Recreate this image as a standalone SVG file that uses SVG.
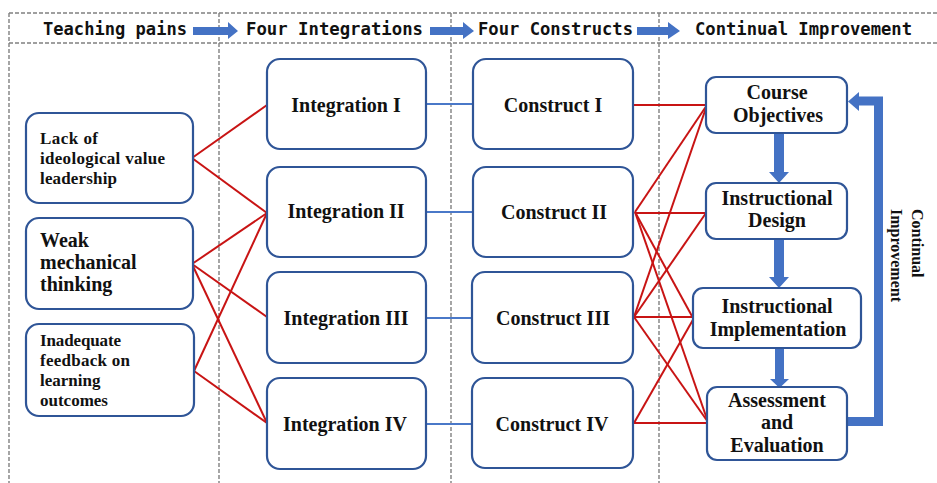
<svg xmlns="http://www.w3.org/2000/svg" width="937" height="483" viewBox="0 0 937 483">
  <style>
    .dash { stroke: #808080; stroke-width: 1.4; stroke-dasharray: 4 2; fill: none; }
    .hdr { font-family: "DejaVu Sans Mono", "Liberation Mono", monospace; font-weight: bold; font-size: 17px; fill: #111; }
    .harrow { fill: #4472C4; }
    .box { fill: #fff; stroke: #2F5597; stroke-width: 2.2; }
    .t { font-family: "Liberation Serif", "Times New Roman", serif; font-weight: bold; fill: #111; }
    .t20 { font-size: 20px; }
    .t17 { font-size: 17px; }
    .t16 { font-size: 16px; }
    .mid { text-anchor: middle; }
    .red { stroke: #C81414; stroke-width: 2; fill: none; }
    .blue { stroke: #4A78C8; stroke-width: 2; fill: none; }
    .bigarrow { fill: #4472C4; }
  </style>

  <!-- dashed frame -->
  <g id="frame">
    <line class="dash" x1="9" y1="13" x2="937" y2="13"/>
    <line class="dash" x1="9" y1="43" x2="937" y2="43"/>
    <line class="dash" x1="9" y1="13" x2="9" y2="483"/>
    <line class="dash" x1="219" y1="13" x2="219" y2="483"/>
    <line class="dash" x1="451" y1="13" x2="451" y2="483"/>
    <line class="dash" x1="659" y1="13" x2="659" y2="483"/>
  </g>

  <!-- header -->
  <g id="header">
    <text class="hdr" x="43" y="35" textLength="144" lengthAdjust="spacingAndGlyphs">Teaching pains</text>
    <polygon class="harrow" points="193,27 228,27 228,22 238,31 228,39 228,35 193,35"/>
    <text class="hdr" x="246" y="35" textLength="177" lengthAdjust="spacingAndGlyphs">Four Integrations</text>
    <polygon class="harrow" points="430,27 463,27 463,22 474,31 463,39 463,35 430,35"/>
    <text class="hdr" x="478" y="35" textLength="155" lengthAdjust="spacingAndGlyphs">Four Constructs</text>
    <polygon class="harrow" points="637,27 668,27 668,22 680,31 668,39 668,35 637,35"/>
    <text class="hdr" x="695" y="35" textLength="217" lengthAdjust="spacingAndGlyphs">Continual Improvement</text>
  </g>

  <!-- connectors -->
  <g id="connectors">
    <!-- pains to integrations -->
    <line class="red" x1="192" y1="158" x2="267" y2="105"/>
    <line class="red" x1="192" y1="158" x2="267" y2="213"/>
    <line class="red" x1="192" y1="264" x2="267" y2="213"/>
    <line class="red" x1="192" y1="264" x2="267" y2="317"/>
    <line class="red" x1="192" y1="264" x2="267" y2="423"/>
    <line class="red" x1="194" y1="371" x2="267" y2="213"/>
    <line class="red" x1="194" y1="371" x2="267" y2="423"/>
    <!-- integrations to constructs -->
    <line class="blue" x1="426" y1="104" x2="473" y2="104"/>
    <line class="blue" x1="426" y1="212" x2="473" y2="212"/>
    <line class="blue" x1="426" y1="318" x2="473" y2="318"/>
    <line class="blue" x1="426" y1="424" x2="473" y2="424"/>
    <!-- constructs to continual improvement -->
    <line class="red" x1="633" y1="105" x2="707" y2="105"/>
    <line class="red" x1="635" y1="212" x2="707" y2="105"/>
    <line class="red" x1="634" y1="317" x2="707" y2="105"/>
    <line class="red" x1="635" y1="213" x2="706" y2="213"/>
    <line class="red" x1="634" y1="317" x2="706" y2="213"/>
    <line class="red" x1="635" y1="212" x2="693" y2="318"/>
    <line class="red" x1="635" y1="212" x2="708" y2="422"/>
    <line class="red" x1="634" y1="317" x2="693" y2="317"/>
    <line class="red" x1="634" y1="317" x2="708" y2="422"/>
    <line class="red" x1="634" y1="423" x2="694" y2="318"/>
    <line class="red" x1="634" y1="423" x2="708" y2="423"/>
    <!-- flow arrows -->
    <polygon class="bigarrow" points="774,133 784,133 784,172 789,172 779,183 769,172 774,172"/>
    <polygon class="bigarrow" points="774,239 784,239 784,277 789,277 779,288 769,277 774,277"/>
    <polygon class="bigarrow" points="775,348 784,348 784,379 789,379 779.5,388 770,379 775,379"/>
    <!-- loop -->
    <polyline points="847,421.5 878.5,421.5 878.5,101 857,101" fill="none" stroke="#4472C4" stroke-width="9"/>
    <polygon class="bigarrow" points="859,92 859,111 848,101.5"/>
  </g>

  <!-- left column -->
  <g id="pain1">
    <rect class="box" x="26" y="113" width="167" height="90" rx="13"/>
    <text class="t t17" x="40" y="144" textLength="58">Lack of</text>
    <text class="t t17" x="40" y="164" textLength="125">ideological value</text>
    <text class="t t17" x="40" y="184" textLength="77">leadership</text>
  </g>
  <g id="pain2">
    <rect class="box" x="26" y="218" width="167" height="91" rx="13"/>
    <text class="t t20" x="40" y="247">Weak</text>
    <text class="t t20" x="40" y="269">mechanical</text>
    <text class="t t20" x="40" y="291">thinking</text>
  </g>
  <g id="pain3">
    <rect class="box" x="26" y="324" width="168" height="92" rx="13"/>
    <text class="t t17" x="40" y="346" textLength="81">Inadequate</text>
    <text class="t t17" x="40" y="366" textLength="90">feedback on</text>
    <text class="t t17" x="40" y="386">learning</text>
    <text class="t t17" x="40" y="406">outcomes</text>
  </g>

  <!-- integrations -->
  <g id="integration1">
    <rect class="box" x="267" y="59" width="159" height="90" rx="13"/>
    <text class="t t20 mid" x="346" y="112">Integration I</text>
  </g>
  <g id="integration2">
    <rect class="box" x="267" y="167" width="159" height="90" rx="13"/>
    <text class="t t20 mid" x="346" y="218">Integration II</text>
  </g>
  <g id="integration3">
    <rect class="box" x="267" y="272" width="159" height="91" rx="13"/>
    <text class="t t20 mid" x="346" y="325">Integration III</text>
  </g>
  <g id="integration4">
    <rect class="box" x="267" y="378" width="159" height="91" rx="13"/>
    <text class="t t20 mid" x="345" y="431">Integration IV</text>
  </g>

  <!-- constructs -->
  <g id="construct1">
    <rect class="box" x="473" y="59" width="160" height="90" rx="13"/>
    <text class="t t20 mid" x="553" y="112">Construct I</text>
  </g>
  <g id="construct2">
    <rect class="box" x="473" y="167" width="160" height="90" rx="13"/>
    <text class="t t20 mid" x="554" y="219">Construct II</text>
  </g>
  <g id="construct3">
    <rect class="box" x="472" y="272" width="161" height="91" rx="13"/>
    <text class="t t20 mid" x="553" y="325">Construct III</text>
  </g>
  <g id="construct4">
    <rect class="box" x="472" y="378" width="161" height="90" rx="13"/>
    <text class="t t20 mid" x="552" y="431">Construct IV</text>
  </g>

  <!-- improvement cycle -->
  <g id="objectives">
    <rect class="box" x="706" y="77" width="141" height="56" rx="10"/>
    <text class="t t20 mid" x="777" y="99">Course</text>
    <text class="t t20 mid" x="778" y="122">Objectives</text>
  </g>
  <g id="design">
    <rect class="box" x="706" y="183" width="141" height="56" rx="10"/>
    <text class="t t20 mid" x="777" y="205">Instructional</text>
    <text class="t t20 mid" x="777" y="227">Design</text>
  </g>
  <g id="implementation">
    <rect class="box" x="693" y="288" width="168" height="60" rx="10"/>
    <text class="t t20 mid" x="777" y="313">Instructional</text>
    <text class="t t20 mid" x="778" y="336">Implementation</text>
  </g>
  <g id="assessment">
    <rect class="box" x="707" y="387" width="140" height="73" rx="10"/>
    <text class="t t20 mid" x="777" y="407">Assessment</text>
    <text class="t t20 mid" x="777" y="429">and</text>
    <text class="t t20 mid" x="777" y="452">Evaluation</text>
  </g>

  <g id="loop-label">
    <text class="t t16" transform="translate(912,209) rotate(90)">Continual<tspan x="0" dy="21">Improvement</tspan></text>
  </g>
</svg>
